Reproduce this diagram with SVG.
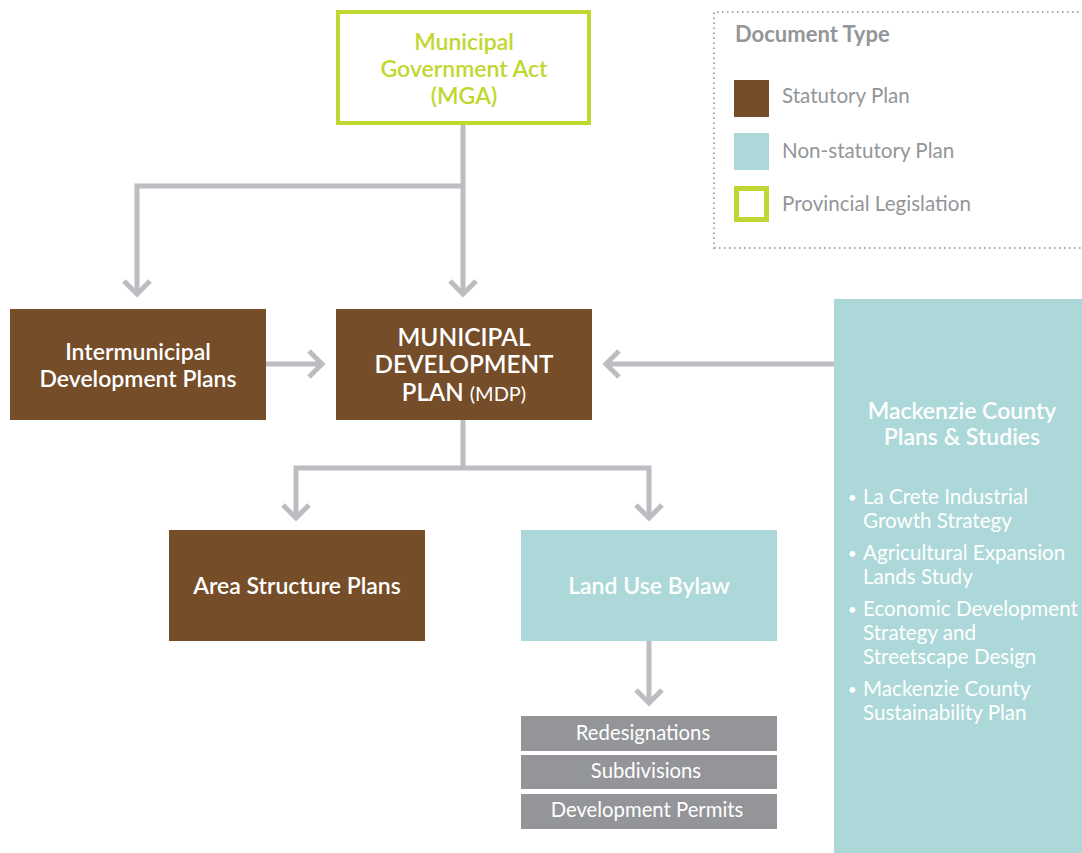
<svg xmlns="http://www.w3.org/2000/svg" width="1082" height="853" viewBox="0 0 1082 853">
<style>
.brown{fill:#754d29}
.cyan{fill:#add8d9}
.grey{fill:#939598}
.wt{fill:#ffffff;font-family:Lato,"Liberation Sans",sans-serif;text-anchor:middle}
.hd{font-size:23px;font-weight:600}
.sm{font-size:20.3px;font-weight:400}
.lg{font-family:Lato,"Liberation Sans",sans-serif;font-size:20.6px;fill:#939598}
.conn{fill:none;stroke:#bcbdc0;stroke-width:5}
.bl{font-family:Lato,"Liberation Sans",sans-serif;font-size:20.6px;fill:#ffffff}
.dot{font-size:15px}
.big{font-size:24px;font-weight:600}
</style>
<rect width="1082" height="853" fill="#ffffff"/>

<g id="legend">
<path d="M714 249 V12 H1082 M714 248 H1082" fill="none" stroke="#a7a9ac" stroke-width="2" stroke-dasharray="1.5 3.5"/>
<text x="735" y="42" font-family="Lato,'Liberation Sans',sans-serif" font-size="22" font-weight="700" fill="#939598">Document Type</text>
<rect x="734" y="80" width="35" height="37" class="brown"/>
<text x="782" y="103" class="lg">Statutory Plan</text>
<rect x="734" y="133" width="35" height="37" class="cyan"/>
<text x="782" y="158" class="lg">Non-statutory Plan</text>
<rect x="736.5" y="188.5" width="30" height="31" fill="none" stroke="#bfd730" stroke-width="5"/>
<text x="782" y="211" class="lg">Provincial Legislation</text>
</g>

<g id="connectors" class="conn">
<path d="M463 125 V294 M463 186 H137 V294"/>
<path d="M450 281 L463 294 L476 281 M124 281 L137 294 L150 281"/>
<path d="M266 364 H322 M309 351 L322 364 L309 377"/>
<path d="M834 364 H606 M619 351 L606 364 L619 377"/>
<path d="M463 420 V468 M296 518 V468 H649 V518"/>
<path d="M283 505 L296 518 L309 505 M636 505 L649 518 L662 505"/>
<path d="M649 641 V703 M636 690 L649 703 L662 690"/>
</g>

<g id="mga">
<rect x="338" y="12" width="251" height="111" fill="#ffffff" stroke="#bfd730" stroke-width="4"/>
<text x="464" y="50" class="wt hd" style="fill:#bfd730">Municipal</text>
<text x="464" y="77" class="wt hd" style="fill:#bfd730">Government Act</text>
<text x="464" y="104" class="wt hd" style="fill:#bfd730">(MGA)</text>
</g>

<g id="idp">
<rect x="10" y="309" width="256" height="111" class="brown"/>
<text x="138" y="360" class="wt hd">Intermunicipal</text>
<text x="138" y="387" class="wt hd">Development Plans</text>
</g>

<g id="mdp">
<rect x="336" y="309" width="256" height="111" class="brown"/>
<text x="464" y="346" class="wt big" textLength="133" lengthAdjust="spacingAndGlyphs">MUNICIPAL</text>
<text x="464" y="373" class="wt big" textLength="179" lengthAdjust="spacingAndGlyphs">DEVELOPMENT</text>
<text x="464" y="401" class="wt big">PLAN <tspan font-size="20" font-weight="400">(MDP)</tspan></text>
</g>

<g id="mackenzie">
<rect x="834" y="299" width="248" height="554" class="cyan"/>
<text x="962" y="419" class="wt hd">Mackenzie County</text>
<text x="962" y="445" class="wt hd">Plans &amp; Studies</text>
<g class="bl">
<text x="848" y="503" class="dot">•</text>
<text x="863" y="504">La Crete Industrial</text>
<text x="863" y="528">Growth Strategy</text>
<text x="848" y="559" class="dot">•</text>
<text x="863" y="560">Agricultural Expansion</text>
<text x="863" y="584">Lands Study</text>
<text x="848" y="615" class="dot">•</text>
<text x="863" y="616">Economic Development</text>
<text x="863" y="640">Strategy and</text>
<text x="863" y="664">Streetscape Design</text>
<text x="848" y="695" class="dot">•</text>
<text x="863" y="696">Mackenzie County</text>
<text x="863" y="720">Sustainability Plan</text>
</g>
</g>

<g id="asp">
<rect x="169" y="530" width="256" height="111" class="brown"/>
<text x="297" y="594" class="wt hd">Area Structure Plans</text>
</g>

<g id="lub">
<rect x="521" y="530" width="256" height="111" class="cyan"/>
<text x="649" y="594" class="wt hd">Land Use Bylaw</text>
</g>

<g id="redesignations">
<rect x="521" y="716" width="256" height="35" class="grey"/>
<text x="643" y="740" class="wt sm">Redesignations</text>
</g>
<g id="subdivisions">
<rect x="521" y="755" width="256" height="34" class="grey"/>
<text x="646" y="778" class="wt sm">Subdivisions</text>
</g>
<g id="permits">
<rect x="521" y="794" width="256" height="35" class="grey"/>
<text x="647" y="817" class="wt sm">Development Permits</text>
</g>
</svg>
